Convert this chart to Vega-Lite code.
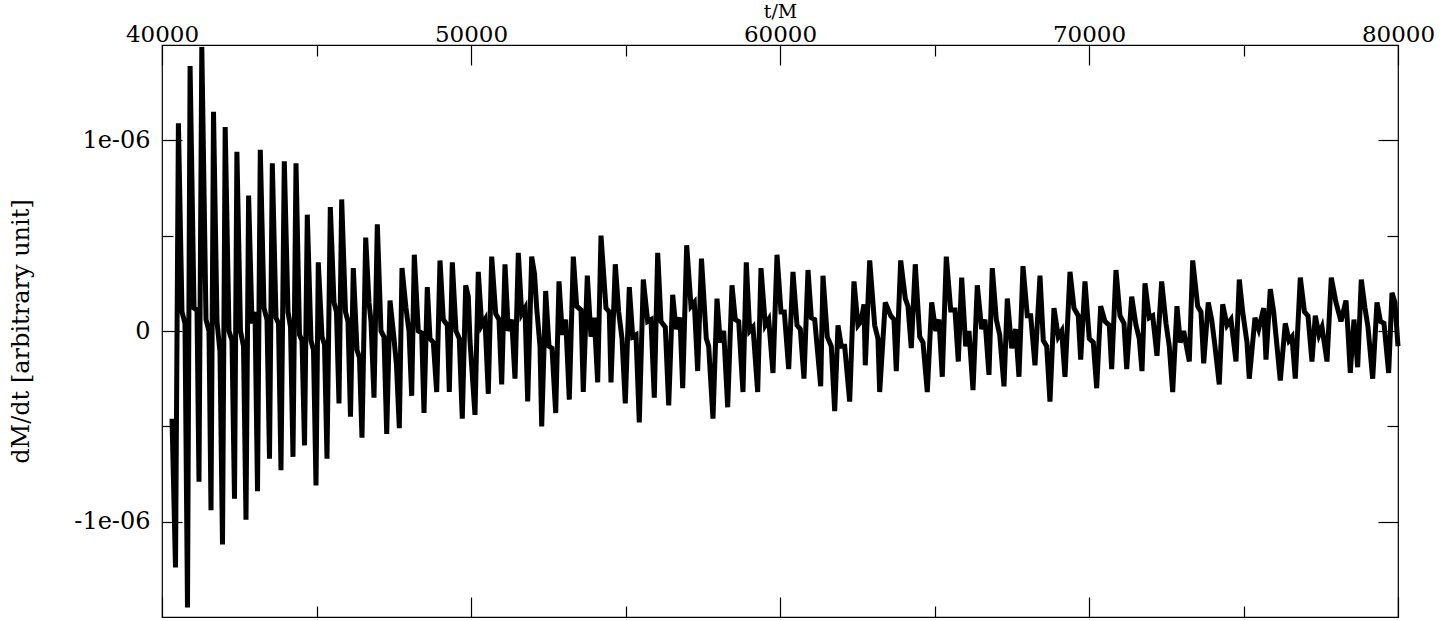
{
  "$schema": "https://vega.github.io/schema/vega-lite/v6.json",
  "width": 1236,
  "height": 572,
  "autosize": {"type": "none"},
  "padding": {"left": 162, "top": 45, "right": 51, "bottom": 4},
  "background": "white",
  "config": {
    "view": {"stroke": "#000", "strokeWidth": 1.2},
    "font": "DejaVu Serif",
    "axis": {
      "grid": false, "domain": false,
      "labelFont": "DejaVu Serif", "titleFont": "DejaVu Serif",
      "labelColor": "#000", "titleColor": "#000", "tickColor": "#000",
      "labelFontSize": 24, "titleFontSize": 22, "titleFontWeight": "normal",
      "tickWidth": 1.2, "labelFlush": false
    }
  },
  "data": {"values": [
{"t":40324,"y":-0.46e-6},{"t":40437,"y":-1.24e-6},{"t":40531,"y":1.09e-6},{"t":40647,"y":0.10e-6},{"t":40744,"y":0.04e-6},
{"t":40825,"y":-1.45e-6},{"t":40909,"y":1.39e-6},{"t":41036,"y":0.12e-6},{"t":41133,"y":0.11e-6},
{"t":41197,"y":-0.79e-6},{"t":41288,"y":1.49e-6},{"t":41424,"y":0.06e-6},{"t":41521,"y":0.0},
{"t":41586,"y":-0.94e-6},{"t":41667,"y":1.15e-6},{"t":41780,"y":0.05e-6},{"t":41877,"y":-0.11e-6},
{"t":41958,"y":-1.12e-6},{"t":42045,"y":1.07e-6},{"t":42168,"y":0.0},{"t":42265,"y":-0.05e-6},
{"t":42346,"y":-0.88e-6},{"t":42424,"y":0.94e-6},{"t":42540,"y":0.0},{"t":42638,"y":-0.08e-6},
{"t":42718,"y":-0.99e-6},{"t":42803,"y":0.71e-6},{"t":42913,"y":0.04e-6},{"t":43010,"y":0.10e-6},
{"t":43091,"y":-0.84e-6},{"t":43181,"y":0.95e-6},{"t":43301,"y":0.12e-6},{"t":43398,"y":0.06e-6},
{"t":43479,"y":-0.67e-6},{"t":43570,"y":0.88e-6},{"t":43689,"y":0.07e-6},{"t":43770,"y":0.04e-6},
{"t":43851,"y":-0.73e-6},{"t":43958,"y":0.89e-6},{"t":44078,"y":0.10e-6},{"t":44159,"y":0.02e-6},
{"t":44239,"y":-0.66e-6},{"t":44337,"y":0.88e-6},{"t":44450,"y":-0.02e-6},{"t":44531,"y":-0.05e-6},
{"t":44612,"y":-0.60e-6},{"t":44702,"y":0.61e-6},{"t":44822,"y":-0.05e-6},{"t":44903,"y":-0.10e-6},
{"t":44984,"y":-0.81e-6},{"t":45058,"y":0.36e-6},{"t":45178,"y":-0.03e-6},{"t":45259,"y":-0.07e-6},
{"t":45340,"y":-0.67e-6},{"t":45447,"y":0.65e-6},{"t":45566,"y":0.15e-6},{"t":45647,"y":0.10e-6},
{"t":45728,"y":-0.38e-6},{"t":45815,"y":0.69e-6},{"t":45938,"y":0.10e-6},{"t":46019,"y":0.05e-6},
{"t":46100,"y":-0.45e-6},{"t":46191,"y":0.33e-6},{"t":46311,"y":-0.10e-6},{"t":46391,"y":-0.14e-6},
{"t":46472,"y":-0.56e-6},{"t":46592,"y":0.49e-6},{"t":46699,"y":0.15e-6},{"t":46764,"y":0.05e-6},
{"t":46861,"y":-0.35e-6},{"t":46968,"y":0.56e-6},{"t":47087,"y":0.0},{"t":47184,"y":-0.03e-6},
{"t":47272,"y":-0.54e-6},{"t":47379,"y":0.16e-6},{"t":47508,"y":-0.04e-6},{"t":47589,"y":-0.18e-6},
{"t":47680,"y":-0.51e-6},{"t":47767,"y":0.33e-6},{"t":47896,"y":0.12e-6},{"t":47993,"y":0.0},
{"t":48081,"y":-0.34e-6},{"t":48165,"y":0.40e-6},{"t":48294,"y":0.0},{"t":48404,"y":-0.01e-6},
{"t":48479,"y":-0.43e-6},{"t":48586,"y":0.23e-6},{"t":48673,"y":-0.04e-6},{"t":48780,"y":-0.06e-6},
{"t":48890,"y":-0.32e-6},{"t":48997,"y":0.37e-6},{"t":49103,"y":0.06e-6},{"t":49233,"y":0.03e-6},
{"t":49298,"y":-0.32e-6},{"t":49395,"y":0.36e-6},{"t":49514,"y":0.0},{"t":49621,"y":-0.04e-6},
{"t":49718,"y":-0.46e-6},{"t":49828,"y":0.24e-6},{"t":49913,"y":0.18e-6},{"t":49967,"y":-0.05e-6},
{"t":50129,"y":-0.44e-6},{"t":50236,"y":0.31e-6},{"t":50346,"y":0.03e-6},{"t":50453,"y":0.06e-6},
{"t":50560,"y":-0.33e-6},{"t":50670,"y":0.39e-6},{"t":50799,"y":0.09e-6},{"t":50906,"y":0.06e-6},
{"t":50993,"y":-0.28e-6},{"t":51100,"y":0.35e-6},{"t":51207,"y":0.0},{"t":51317,"y":0.06e-6},
{"t":51424,"y":-0.25e-6},{"t":51531,"y":0.41e-6},{"t":51641,"y":0.09e-6},{"t":51747,"y":0.12e-6},
{"t":51835,"y":-0.37e-6},{"t":51964,"y":0.39e-6},{"t":52055,"y":0.30e-6},{"t":52126,"y":0.12e-6},{"t":52233,"y":-0.08e-6},
{"t":52288,"y":-0.50e-6},{"t":52417,"y":0.21e-6},{"t":52524,"y":-0.08e-6},{"t":52621,"y":-0.09e-6},
{"t":52741,"y":-0.43e-6},{"t":52848,"y":0.26e-6},{"t":52955,"y":-0.02e-6},{"t":53065,"y":0.06e-6},
{"t":53181,"y":-0.36e-6},{"t":53311,"y":0.39e-6},{"t":53420,"y":0.13e-6},{"t":53560,"y":0.11e-6},
{"t":53634,"y":-0.32e-6},{"t":53764,"y":0.29e-6},{"t":53883,"y":-0.03e-6},{"t":53990,"y":0.07e-6},
{"t":54100,"y":-0.27e-6},{"t":54207,"y":0.50e-6},{"t":54369,"y":0.12e-6},{"t":54475,"y":0.10e-6},
{"t":54531,"y":-0.27e-6},{"t":54670,"y":0.35e-6},{"t":54780,"y":0.10e-6},{"t":54887,"y":-0.04e-6},
{"t":54993,"y":-0.38e-6},{"t":55123,"y":0.23e-6},{"t":55233,"y":-0.03e-6},{"t":55340,"y":-0.02e-6},
{"t":55446,"y":-0.48e-6},{"t":55576,"y":0.27e-6},{"t":55718,"y":0.05e-6},{"t":55825,"y":0.06e-6},
{"t":55932,"y":-0.35e-6},{"t":56042,"y":0.41e-6},{"t":56149,"y":0.05e-6},{"t":56288,"y":0.02e-6},
{"t":56398,"y":-0.39e-6},{"t":56527,"y":0.19e-6},{"t":56634,"y":0.01e-6},{"t":56764,"y":0.07e-6},
{"t":56851,"y":-0.30e-6},{"t":56980,"y":0.45e-6},{"t":57120,"y":0.13e-6},{"t":57226,"y":0.15e-6},
{"t":57336,"y":-0.21e-6},{"t":57459,"y":0.38e-6},{"t":57615,"y":-0.04e-6},{"t":57692,"y":-0.08e-6},
{"t":57831,"y":-0.46e-6},{"t":57961,"y":0.17e-6},{"t":58068,"y":-0.06e-6},{"t":58178,"y":0.0},
{"t":58307,"y":-0.40e-6},{"t":58446,"y":0.24e-6},{"t":58553,"y":0.06e-6},{"t":58663,"y":0.05e-6},
{"t":58802,"y":-0.32e-6},{"t":58909,"y":0.36e-6},{"t":59019,"y":0.0},{"t":59126,"y":0.02e-6},
{"t":59278,"y":-0.32e-6},{"t":59385,"y":0.33e-6},{"t":59524,"y":0.03e-6},{"t":59634,"y":0.06e-6},
{"t":59773,"y":-0.22e-6},{"t":59903,"y":0.40e-6},{"t":60032,"y":0.10e-6},{"t":60139,"y":0.10e-6},
{"t":60281,"y":-0.20e-6},{"t":60420,"y":0.31e-6},{"t":60550,"y":0.03e-6},{"t":60657,"y":0.01e-6},
{"t":60776,"y":-0.25e-6},{"t":60906,"y":0.32e-6},{"t":61013,"y":0.07e-6},{"t":61123,"y":0.06e-6},
{"t":61317,"y":-0.29e-6},{"t":61391,"y":0.29e-6},{"t":61530,"y":-0.03e-6},{"t":61660,"y":-0.08e-6},
{"t":61770,"y":-0.42e-6},{"t":61877,"y":0.03e-6},{"t":61983,"y":-0.08e-6},{"t":62093,"y":-0.08e-6},
{"t":62255,"y":-0.37e-6},{"t":62394,"y":0.26e-6},{"t":62524,"y":0.03e-6},{"t":62621,"y":0.05e-6},{"t":62718,"y":0.14e-6},
{"t":62760,"y":-0.18e-6},{"t":62903,"y":0.37e-6},{"t":63064,"y":0.03e-6},{"t":63171,"y":-0.04e-6},
{"t":63226,"y":-0.32e-6},{"t":63407,"y":0.15e-6},{"t":63582,"y":0.08e-6},{"t":63689,"y":0.06e-6},
{"t":63763,"y":-0.21e-6},{"t":63906,"y":0.37e-6},{"t":64055,"y":0.17e-6},{"t":64142,"y":0.13e-6},
{"t":64249,"y":-0.09e-6},{"t":64378,"y":0.35e-6},{"t":64521,"y":-0.03e-6},{"t":64628,"y":-0.06e-6},
{"t":64767,"y":-0.32e-6},{"t":64909,"y":0.15e-6},{"t":65038,"y":0.0},{"t":65145,"y":0.06e-6},
{"t":65252,"y":-0.24e-6},{"t":65382,"y":0.39e-6},{"t":65524,"y":0.11e-6},{"t":65663,"y":0.11e-6},
{"t":65770,"y":-0.16e-6},{"t":65880,"y":0.28e-6},{"t":66009,"y":-0.08e-6},{"t":66116,"y":0.0},
{"t":66246,"y":-0.31e-6},{"t":66385,"y":0.24e-6},{"t":66527,"y":0.01e-6},{"t":66634,"y":0.06e-6},
{"t":66763,"y":-0.23e-6},{"t":66870,"y":0.33e-6},{"t":67000,"y":0.06e-6},{"t":67110,"y":-0.02e-6},
{"t":67249,"y":-0.29e-6},{"t":67356,"y":0.17e-6},{"t":67498,"y":-0.09e-6},{"t":67628,"y":0.01e-6},
{"t":67734,"y":-0.24e-6},{"t":67864,"y":0.34e-6},{"t":68003,"y":0.08e-6},{"t":68113,"y":0.08e-6},
{"t":68252,"y":-0.18e-6},{"t":68414,"y":0.29e-6},{"t":68521,"y":-0.05e-6},{"t":68631,"y":-0.08e-6},
{"t":68737,"y":-0.37e-6},{"t":68867,"y":0.12e-6},{"t":69006,"y":-0.03e-6},{"t":69116,"y":0.0},
{"t":69223,"y":-0.24e-6},{"t":69385,"y":0.31e-6},{"t":69514,"y":0.12e-6},{"t":69653,"y":0.08e-6},
{"t":69731,"y":-0.15e-6},{"t":69870,"y":0.26e-6},{"t":70009,"y":-0.04e-6},{"t":70139,"y":-0.06e-6},
{"t":70249,"y":-0.30e-6},{"t":70378,"y":0.13e-6},{"t":70517,"y":0.05e-6},{"t":70657,"y":0.03e-6},
{"t":70734,"y":-0.20e-6},{"t":70873,"y":0.32e-6},{"t":71003,"y":0.08e-6},{"t":71132,"y":0.04e-6},
{"t":71220,"y":-0.20e-6},{"t":71382,"y":0.18e-6},{"t":71521,"y":0.03e-6},{"t":71627,"y":-0.04e-6},
{"t":71715,"y":-0.21e-6},{"t":71812,"y":0.25e-6},{"t":71951,"y":0.07e-6},{"t":72061,"y":0.08e-6},
{"t":72200,"y":-0.13e-6},{"t":72352,"y":0.26e-6},{"t":72491,"y":0.04e-6},{"t":72598,"y":-0.08e-6},
{"t":72708,"y":-0.32e-6},{"t":72847,"y":0.13e-6},{"t":72954,"y":-0.06e-6},{"t":73064,"y":0.0},
{"t":73246,"y":-0.16e-6},{"t":73356,"y":0.37e-6},{"t":73517,"y":0.13e-6},{"t":73624,"y":0.10e-6},
{"t":73712,"y":-0.17e-6},{"t":73860,"y":0.15e-6},{"t":73970,"y":0.06e-6},{"t":74077,"y":-0.08e-6},
{"t":74216,"y":-0.28e-6},{"t":74326,"y":0.14e-6},{"t":74466,"y":0.03e-6},{"t":74595,"y":0.06e-6},
{"t":74757,"y":-0.16e-6},{"t":74864,"y":0.27e-6},{"t":74974,"y":0.10e-6},{"t":75113,"y":-0.06e-6},
{"t":75187,"y":-0.25e-6},{"t":75372,"y":0.07e-6},{"t":75492,"y":0.01e-6},{"t":75653,"y":0.12e-6},
{"t":75728,"y":-0.15e-6},{"t":75867,"y":0.22e-6},{"t":75977,"y":0.10e-6},{"t":76084,"y":-0.08e-6},
{"t":76191,"y":-0.26e-6},{"t":76352,"y":0.04e-6},{"t":76472,"y":-0.05e-6},{"t":76569,"y":-0.03e-6},
{"t":76676,"y":-0.25e-6},{"t":76838,"y":0.28e-6},{"t":76974,"y":0.10e-6},{"t":77087,"y":0.08e-6},
{"t":77216,"y":-0.16e-6},{"t":77323,"y":0.08e-6},{"t":77443,"y":-0.02e-6},{"t":77540,"y":0.02e-6},
{"t":77702,"y":-0.16e-6},{"t":77841,"y":0.28e-6},{"t":77993,"y":0.15e-6},{"t":78155,"y":0.05e-6},{"t":78317,"y":0.16e-6},{"t":78381,"y":0.0},
{"t":78456,"y":-0.22e-6},{"t":78575,"y":0.06e-6},{"t":78695,"y":-0.19e-6},{"t":78812,"y":0.27e-6},{"t":78932,"y":0.12e-6},{"t":79029,"y":0.02e-6},
{"t":79181,"y":-0.25e-6},{"t":79320,"y":0.15e-6},{"t":79433,"y":0.05e-6},{"t":79546,"y":0.04e-6},
{"t":79698,"y":-0.22e-6},{"t":79805,"y":0.20e-6},{"t":79902,"y":0.15e-6},{"t":80000,"y":-0.08e-6}
  ]},
  "layer": [
    {
      "mark": {"type": "line", "color": "#000", "strokeWidth": 5},
      "encoding": {
        "x": {"field": "t", "type": "quantitative",
              "scale": {"domain": [40000, 80000], "nice": false, "zero": false},
              "axis": {"orient": "top", "values": [40000, 50000, 60000, 70000, 80000], "format": "d",
                       "ticks": false, "labelPadding": 4, "labelBaseline": "alphabetic", "labelFontSize": 23,
                       "title": "t/M", "titleFontSize": 19, "titleBaseline": "top", "titleY": -43}},
        "y": {"field": "y", "type": "quantitative",
              "scale": {"domain": [-1.5e-6, 1.5e-6], "nice": false, "zero": false},
              "axis": {"orient": "left", "values": [-1e-6, 0, 1e-6], "ticks": false, "labelPadding": 12,
                       "labelExpr": "datum.value == 0 ? '0' : (datum.value > 0 ? '1e-06' : '-1e-06')",
                       "title": "dM/dt [arbitrary unit]", "titleFontSize": 24, "titlePadding": 40}}
      }
    },
    {
      "mark": {"type": "line", "opacity": 0},
      "encoding": {
        "x": {"field": "t", "type": "quantitative", "scale": {"domain": [40000, 80000], "nice": false, "zero": false},
              "axis": {"orient": "top", "values": [40000, 50000, 60000, 70000, 80000], "labels": false, "title": null, "tickSize": -20}},
        "y": {"field": "y", "type": "quantitative", "scale": {"domain": [-1.5e-6, 1.5e-6], "nice": false, "zero": false},
              "axis": {"orient": "left", "values": [-1e-6, 0, 1e-6], "labels": false, "title": null, "tickSize": -20}}
      }
    },
    {
      "mark": {"type": "line", "opacity": 0},
      "encoding": {
        "x": {"field": "t", "type": "quantitative", "scale": {"domain": [40000, 80000], "nice": false, "zero": false},
              "axis": {"orient": "top", "values": [45000, 55000, 65000, 75000], "labels": false, "title": null, "tickSize": -11}},
        "y": {"field": "y", "type": "quantitative", "scale": {"domain": [-1.5e-6, 1.5e-6], "nice": false, "zero": false},
              "axis": {"orient": "left", "values": [-0.5e-6, 0.5e-6], "labels": false, "title": null, "tickSize": -11}}
      }
    },
    {
      "mark": {"type": "line", "opacity": 0},
      "encoding": {
        "x": {"field": "t", "type": "quantitative", "scale": {"domain": [40000, 80000], "nice": false, "zero": false},
              "axis": {"orient": "bottom", "values": [40000, 50000, 60000, 70000, 80000], "labels": false, "title": null, "tickSize": -20}},
        "y": {"field": "y", "type": "quantitative", "scale": {"domain": [-1.5e-6, 1.5e-6], "nice": false, "zero": false},
              "axis": {"orient": "right", "values": [-1e-6, 0, 1e-6], "labels": false, "title": null, "tickSize": -20}}
      }
    },
    {
      "mark": {"type": "line", "opacity": 0},
      "encoding": {
        "x": {"field": "t", "type": "quantitative", "scale": {"domain": [40000, 80000], "nice": false, "zero": false},
              "axis": {"orient": "bottom", "values": [45000, 55000, 65000, 75000], "labels": false, "title": null, "tickSize": -11}},
        "y": {"field": "y", "type": "quantitative", "scale": {"domain": [-1.5e-6, 1.5e-6], "nice": false, "zero": false},
              "axis": {"orient": "right", "values": [-0.5e-6, 0.5e-6], "labels": false, "title": null, "tickSize": -11}}
      }
    }
  ],
  "resolve": {"axis": {"x": "independent", "y": "independent"}}
}
